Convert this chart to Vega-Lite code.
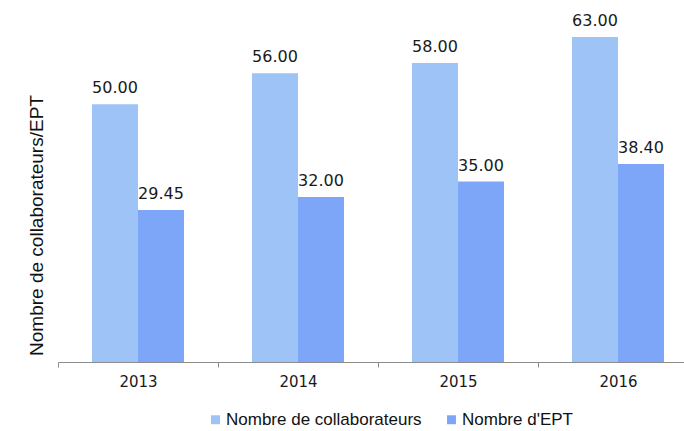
{
  "$schema": "https://vega.github.io/schema/vega-lite/v6.json",
  "autosize": {"type": "none"},
  "width": 626,
  "height": 361,
  "padding": {"left": 58, "top": 1, "right": 0, "bottom": 69},
  "background": "white",
  "config": {"view": {"stroke": null}},
  "data": {
    "values": [
      {"year": "2013", "series": "Nombre de collaborateurs", "value": 50.00},
      {"year": "2013", "series": "Nombre d'EPT", "value": 29.45},
      {"year": "2014", "series": "Nombre de collaborateurs", "value": 56.00},
      {"year": "2014", "series": "Nombre d'EPT", "value": 32.00},
      {"year": "2015", "series": "Nombre de collaborateurs", "value": 58.00},
      {"year": "2015", "series": "Nombre d'EPT", "value": 35.00},
      {"year": "2016", "series": "Nombre de collaborateurs", "value": 63.00},
      {"year": "2016", "series": "Nombre d'EPT", "value": 38.40}
    ]
  },
  "encoding": {
    "x": {
      "field": "year", "type": "nominal",
      "scale": {"range": [0, 640], "paddingInner": 0, "paddingOuter": 0},
      "axis": {
        "title": null, "labelAngle": 0,
        "labelFont": "DejaVu Sans", "labelFontSize": 15, "labelColor": "#1a1a1a",
        "labelPadding": 7, "tickBand": "extent", "tickSize": 5,
        "domainColor": "#8c8c8c", "tickColor": "#8c8c8c", "domainWidth": 1, "tickWidth": 1
      }
    },
    "xOffset": {
      "field": "series", "type": "nominal",
      "scale": {"domain": ["Nombre de collaborateurs", "Nombre d'EPT"], "paddingInner": 0, "paddingOuter": 0.739}
    },
    "y": {
      "field": "value", "type": "quantitative",
      "scale": {"domain": [0, 70], "nice": false},
      "axis": {
        "title": "Nombre de collaborateurs/EPT",
        "domain": false, "ticks": false, "labels": false, "grid": false,
        "titleFont": "Liberation Sans", "titleFontSize": 19, "titleFontWeight": "normal",
        "titleColor": "#111111", "titleAngle": -90, "titleX": -22, "titleY": 224,
        "titleAlign": "center", "titleBaseline": "middle"
      }
    }
  },
  "layer": [
    {
      "mark": {"type": "bar"},
      "encoding": {
        "color": {
          "field": "series", "type": "nominal",
          "scale": {"domain": ["Nombre de collaborateurs", "Nombre d'EPT"], "range": ["#9DC3F7", "#7DA6F9"]},
          "legend": {
            "title": null, "orient": "none", "direction": "horizontal",
            "legendX": 149, "legendY": 410,
            "symbolType": "square", "symbolSize": 80, "symbolStrokeWidth": 0,
            "labelFont": "Liberation Sans", "labelFontSize": 17, "labelColor": "#111111",
            "labelLimit": 400, "labelOffset": 2, "columnPadding": 21
          }
        }
      }
    },
    {
      "mark": {"type": "text", "baseline": "alphabetic", "dy": -11, "font": "DejaVu Sans", "fontSize": 16, "color": "#1a1a1a"},
      "encoding": {
        "text": {"field": "value", "type": "quantitative", "format": ".2f"}
      }
    }
  ]
}
